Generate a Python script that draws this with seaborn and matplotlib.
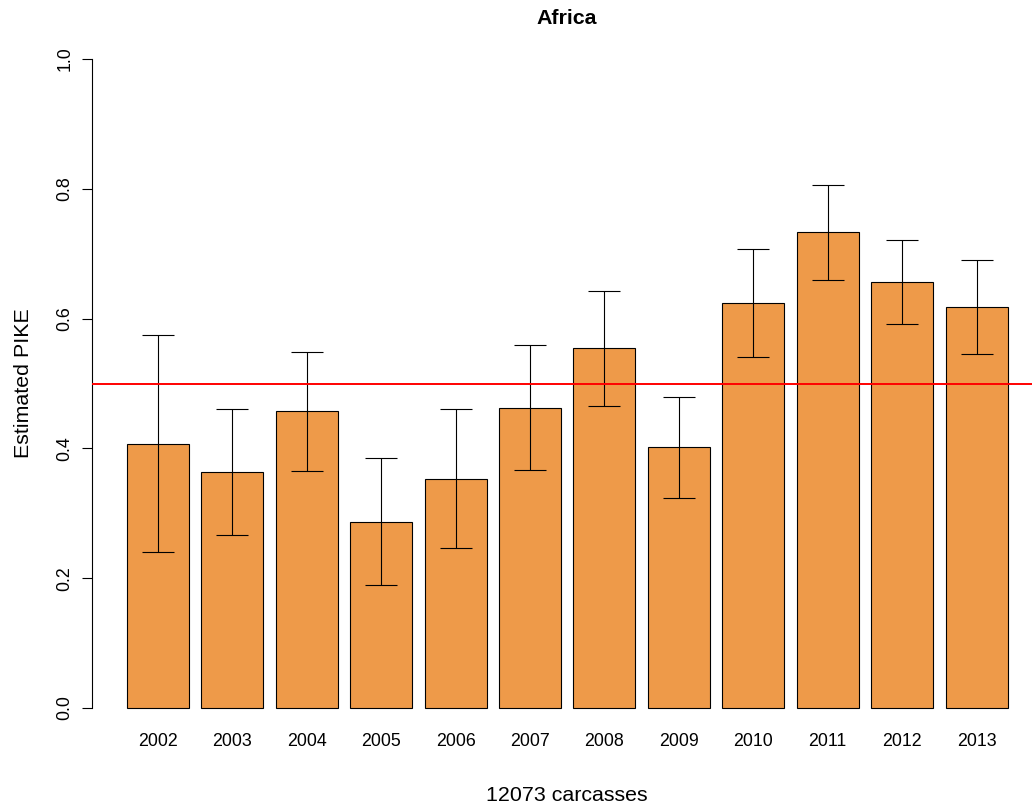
import numpy as np
import pandas as pd
import matplotlib
matplotlib.use("Agg")
import matplotlib.pyplot as plt
import seaborn as sns

# Valeurs
years = ["2002", "2003", "2004", "2005", "2006", "2007",
         "2008", "2009", "2010", "2011", "2012", "2013"]
pike = [0.407, 0.363, 0.457, 0.287, 0.353, 0.462,
        0.554, 0.402, 0.624, 0.733, 0.656, 0.618]
lower = [0.241, 0.266, 0.365, 0.189, 0.247, 0.366,
         0.466, 0.324, 0.541, 0.659, 0.592, 0.545]
upper = [0.574, 0.460, 0.549, 0.385, 0.461, 0.559,
         0.642, 0.479, 0.707, 0.806, 0.721, 0.691]
threshold = 0.5

df = pd.DataFrame({"year": years, "pike": pike, "lo": lower, "hi": upper})

sns.set_style("white")
plt.rcParams["font.family"] = ["Liberation Sans", "DejaVu Sans"]
plt.rcParams["text.color"] = "black"
plt.rcParams["xtick.color"] = "black"
plt.rcParams["ytick.color"] = "black"

W, H = 1032, 805
fig = plt.figure(figsize=(W / 100, H / 100), dpi=100)
ax = fig.add_axes([92 / W, 71 / H, 940 / W, 701 / H])

sns.barplot(data=df, x="year", y="pike", color="#EE9A49", saturation=1,
            edgecolor="black", linewidth=0.8, width=0.833, ax=ax)

# Intervalles
centers = [p.get_x() + p.get_width() / 2 for p in ax.patches]
yerr = np.array([df["pike"] - df["lo"], df["hi"] - df["pike"]])
ax.errorbar(centers, df["pike"], yerr=yerr, fmt="none", ecolor="black",
            elinewidth=0.8, capsize=11.2, capthick=0.8)

ax.axhline(threshold, color="red", lw=1.4, zorder=5)

ax.set_xlim(-0.886, 11.745)
ax.set_ylim(-0.04, 1.04)
ax.set_yticks([0.0, 0.2, 0.4, 0.6, 0.8, 1.0])
ax.set_yticklabels(["0.0", "0.2", "0.4", "0.6", "0.8", "1.0"],
                   rotation=90, va="center")
for s in ["top", "right", "bottom"]:
    ax.spines[s].set_visible(False)
ax.spines["left"].set_bounds(0, 1)
ax.spines["left"].set_color("black")
ax.spines["left"].set_linewidth(0.8)
ax.tick_params(axis="y", length=7.2, width=0.8, direction="out",
               labelsize=12.8, pad=6, left=True, colors="black")
ax.tick_params(axis="x", length=0, labelsize=12.8, pad=-1, colors="black")
ax.set_xlabel("")
ax.set_ylabel("")

fig.text(567 / W, 1 - 19 / H, "Africa", ha="center", va="center",
         fontsize=15.4, fontweight="bold", color="black")
fig.text(567 / W, 1 - 795 / H, "12073 carcasses", ha="center", va="center",
         fontsize=15.4, color="black")
fig.text(23.5 / W, 1 - 383 / H, "Estimated PIKE", ha="center", va="center",
         rotation=90, fontsize=15.4, color="black")

fig.savefig("out.png", dpi=100)
